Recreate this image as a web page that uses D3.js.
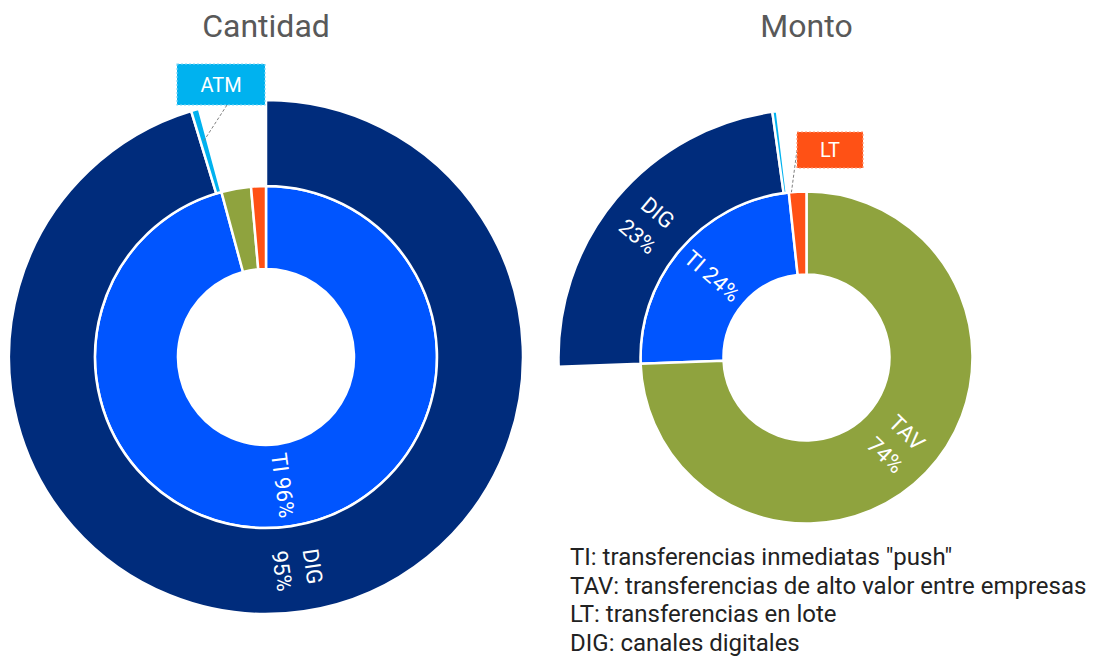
<!DOCTYPE html>
<html>
<head>
<meta charset="utf-8">
<script src="https://cdn.jsdelivr.net/npm/d3@7/dist/d3.min.js"></script>
<style>
  html, body { margin: 0; padding: 0; background: #fff; }
  svg { display: block; font-family: Roboto, "Noto Sans", sans-serif; }
</style>
</head>
<body>
<svg id="chart" width="1102" height="659"></svg>
<script>
// ---------- data ----------
const categories = ["TI", "TAV", "LT"];
const channels = ["DIG", "ATM"];            // sub-channels of TI
const cantidadInner = [95.8, 2.8, 1.4];     // TI, TAV, LT (%)
const cantidadOuter = [95.3, 0.5];          // DIG, ATM (%)
const montoInner = [23.9, 74.4, 1.7];       // TI, TAV, LT (%)
const montoOuter = [23.4, 0.3];             // DIG, ATM (%)
const legendLines = [
  'TI: transferencias inmediatas "push"',
  "TAV: transferencias de alto valor entre empresas",
  "LT: transferencias en lote",
  "DIG: canales digitales"
];

const colors = { TI: "#0055FF", TAV: "#8FA33E", LT: "#FF5115", DIG: "#002C7C", ATM: "#00B2EF" };
const boxBorder = { ATM: "#7FD6F6", LT: "#FF9A78" };

const svg = d3.select("#chart");

function drawChart(cfg) {
  const g = svg.append("g").attr("transform", `translate(${cfg.cx},${cfg.cy})`);
  const innerData = categories.map((c, i) => ({ name: c, value: cfg.inner[i] }));
  const pie = d3.pie().value(d => d.value).sort((a, b) => b.value - a.value);
  const innerArcs = pie(innerData);
  const ti = innerArcs.find(a => a.data.name === "TI");
  const outerData = channels.map((c, i) => ({ name: c, value: cfg.outer[i] }));
  const outerArcs = d3.pie().value(d => d.value).sort(null)
      .startAngle(ti.startAngle)
      .endAngle(ti.startAngle + (ti.endAngle - ti.startAngle) * d3.sum(cfg.outer) / ti.data.value)(outerData);

  const arcIn = d3.arc().innerRadius(cfg.r0).outerRadius(cfg.r1);
  const arcOut = d3.arc().innerRadius(cfg.r1).outerRadius(cfg.r2);

  g.selectAll("path.in").data(innerArcs).join("path")
    .attr("class", "in").attr("d", arcIn)
    .attr("fill", d => colors[d.data.name])
    .attr("stroke", "#fff").attr("stroke-width", 2.5).attr("stroke-linejoin", "round");
  g.selectAll("path.out").data(outerArcs).join("path")
    .attr("class", "out").attr("d", arcOut)
    .attr("fill", d => colors[d.data.name])
    .attr("stroke", "#fff").attr("stroke-width", 2.5).attr("stroke-linejoin", "round");

  // in-slice labels
  const labelled = [
    ...innerArcs.map(a => ({ a, arc: arcIn, r: (cfg.r0 + cfg.r1) / 2 })),
    ...outerArcs.map(a => ({ a, arc: arcOut, r: (cfg.r1 + cfg.r2) / 2 }))
  ].filter(o => cfg.labels[o.a.data.name + (o.arc === arcIn ? "_in" : "_out")]);

  labelled.forEach(o => {
    const mode = cfg.labels[o.a.data.name + (o.arc === arcIn ? "_in" : "_out")];
    const mid = (o.a.startAngle + o.a.endAngle) / 2;
    const x = Math.sin(mid) * o.r, y = -Math.cos(mid) * o.r;
    let deg = mid * 180 / Math.PI;
    let rot = deg < 180 ? deg - 90 : deg + 90 - 360;
    const pct = Math.round(o.a.data.value) + "%";
    const lines = mode === "wrap" ? [o.a.data.name, pct] : [o.a.data.name + " " + pct];
    const lh = 31;
    const t = g.append("text")
      .attr("transform", `translate(${x},${y}) rotate(${rot})`)
      .attr("text-anchor", "middle")
      .attr("fill", "#fff")
      .attr("font-size", 22);
    lines.forEach((l, i) => {
      t.append("tspan").attr("x", 0)
        .attr("y", (i - (lines.length - 1) / 2) * lh)
        .attr("dy", "0.35em").text(l);
    });
  });

  // callout
  const c = cfg.callout;
  const src = [...innerArcs, ...outerArcs].find(a => a.data.name === c.name);
  const ang = src.startAngle + (src.endAngle - src.startAngle) * c.frac;
  const ax = cfg.cx + Math.sin(ang) * c.r, ay = cfg.cy - Math.cos(ang) * c.r;
  svg.append("line")
    .attr("x1", c.lx).attr("y1", c.ly).attr("x2", ax).attr("y2", ay)
    .attr("stroke", "#808080").attr("stroke-width", 1).attr("stroke-dasharray", "3,2");
  svg.append("rect")
    .attr("x", c.x).attr("y", c.y).attr("width", c.w).attr("height", c.h)
    .attr("fill", colors[c.name]).attr("stroke", boxBorder[c.name])
    .attr("stroke-width", 1.2).attr("stroke-dasharray", "2,2");
  svg.append("text")
    .attr("x", c.x + c.w / 2).attr("y", c.y + c.h / 2).attr("dy", "0.35em")
    .attr("text-anchor", "middle").attr("fill", "#fff").attr("font-size", 20)
    .text(c.name);

  svg.append("text")
    .attr("x", cfg.cx).attr("y", 37)
    .attr("text-anchor", "middle").attr("fill", "#595959").attr("font-size", 32)
    .text(cfg.title);
}

drawChart({
  title: "Cantidad", cx: 266, cy: 357, r0: 88, r1: 171, r2: 257,
  inner: cantidadInner, outer: cantidadOuter,
  labels: { TI_in: "single", DIG_out: "wrap" },
  callout: { name: "ATM", x: 177, y: 64, w: 88, h: 41, lx: 227, ly: 105, r: 225, frac: 0.5 }
});
drawChart({
  title: "Monto", cx: 806.5, cy: 357.5, r0: 83, r1: 166, r2: 248,
  inner: montoInner, outer: montoOuter,
  labels: { TAV_in: "wrap", TI_in: "single", DIG_out: "wrap" },
  callout: { name: "LT", x: 797, y: 132, w: 66, h: 36, lx: 797, ly: 150, r: 166, frac: 0.15 }
});

// legend
svg.append("g").selectAll("text").data(legendLines).join("text")
  .attr("x", 570).attr("y", (d, i) => 565 + i * 28.5)
  .attr("fill", "#222").attr("font-size", 24)
  .text(d => d);
</script>
</body>
</html>
